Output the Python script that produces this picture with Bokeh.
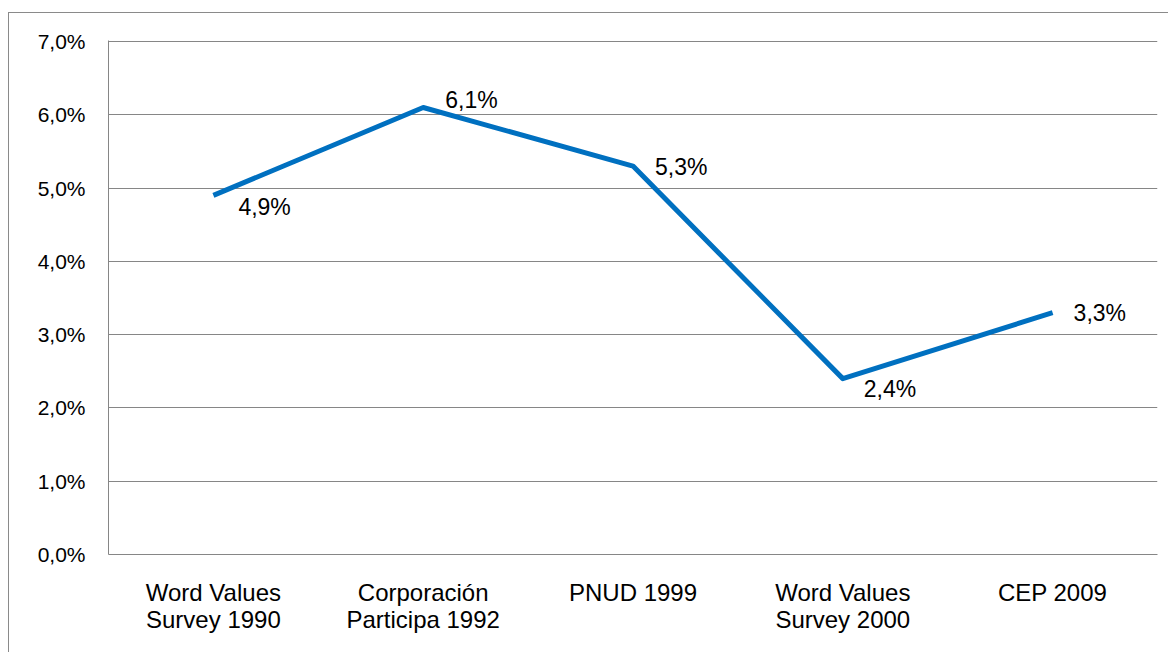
from bokeh.plotting import figure
from bokeh.models import FactorRange, Range1d, FixedTicker, ColumnDataSource
from bokeh.core.properties import value
from bokeh.embed import file_html
from bokeh.resources import INLINE

# ---- data ----
categories = ["Word Values\nSurvey 1990", "Corporación\nParticipa 1992", "PNUD 1999",
              "Word Values\nSurvey 2000", "CEP 2009"]
values = [4.9, 6.1, 5.3, 2.4, 3.3]
y_ticks = [0, 1, 2, 3, 4, 5, 6, 7]
y_tick_labels = ["0,0%", "1,0%", "2,0%", "3,0%", "4,0%", "5,0%", "6,0%", "7,0%"]

# label placement (style)
label_dx = [25, 22, 22, 21, 21]
label_dy = [12, -7, 1, 10, 0]

FONT = "Liberation Sans"
GRID = "#868686"

p = figure(width=1160, height=640, output_backend="svg", toolbar_location=None,
           x_range=FactorRange(*categories, range_padding=0), y_range=Range1d(0, 7.014),
           min_border_left=99, min_border_right=12, min_border_top=27, min_border_bottom=99)
p.styles = {"border-left": "1px solid #8a8a8a", "border-top": "1px solid #8a8a8a",
            "margin-top": "12px", "margin-left": "8px"}
p.outline_line_color = None
p.background_fill_color = "white"
p.border_fill_color = "white"

p.xgrid.grid_line_color = None
p.ygrid.grid_line_color = GRID
p.ygrid.grid_line_width = 1
p.ygrid.ticker = FixedTicker(ticks=y_ticks)

p.yaxis.ticker = FixedTicker(ticks=y_ticks)
p.yaxis.major_label_overrides = {t: l for t, l in zip(y_ticks, y_tick_labels)}
p.yaxis.axis_line_color = GRID
p.yaxis.major_tick_line_color = None
p.yaxis.major_tick_out = 0
p.yaxis.major_tick_in = 0
p.yaxis.minor_tick_line_color = None
p.yaxis.major_label_standoff = 23
p.yaxis.major_label_text_font = FONT
p.yaxis.major_label_text_font_size = "21px"
p.yaxis.major_label_text_color = "black"

p.xaxis.axis_line_color = GRID
p.xaxis.major_tick_line_color = None
p.xaxis.major_tick_out = 0
p.xaxis.major_tick_in = 0
p.xaxis.minor_tick_line_color = None
p.xaxis.major_label_standoff = 24
p.xaxis.major_label_text_font = FONT
p.xaxis.major_label_text_font_size = "24px"
p.xaxis.major_label_text_line_height = 1.0
p.xaxis.major_label_text_color = "black"
p.xaxis.major_label_orientation = "horizontal"

src = ColumnDataSource(dict(
    x=categories, y=values,
    lab=[("%.1f%%" % v).replace(".", ",") for v in values],
    dx=label_dx, dy=label_dy))

p.line(x="x", y="y", source=src, line_color="#0070C0", line_width=5, line_join="round")
p.text(x="x", y="y", text="lab", source=src, x_offset="dx", y_offset="dy",
       text_align="left", text_baseline="middle", text_font=value(FONT),
       text_font_size="23px", text_color="black")

open("out.html", "w").write(file_html(p, INLINE))
